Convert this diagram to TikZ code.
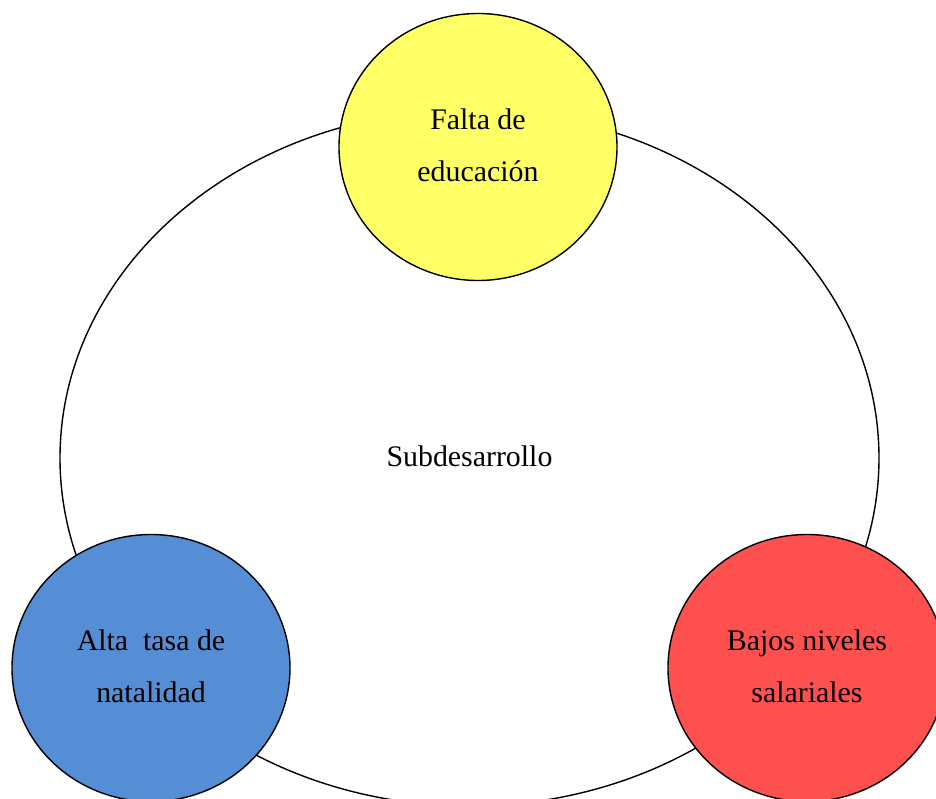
\documentclass[tikz,border=0pt]{standalone}
\usepackage{fontspec}
\setmainfont{Liberation Serif}
\usetikzlibrary{shapes.geometric}
\definecolor{edyellow}{RGB}{255,255,102}
\definecolor{natblue}{RGB}{85,142,213}
\definecolor{salred}{RGB}{255,80,80}
\tikzset{
	bubble/.style={draw, ellipse, line width=0.8pt, inner sep=0pt, align=center,
		minimum width=5.56cm, minimum height=5.34cm,
		font=\fontsize{17}{29.5}\selectfont}
}

\begin{document}
\begin{tikzpicture}
		%%%%% START %%%%%
		\useasboundingbox (0, 0) rectangle (18.72, 15.98);
		
		\node[draw, ellipse, line width=0.8pt, minimum width=16.38cm, minimum height=13.92cm,
			font=\fontsize{17}{29.5}\selectfont] (sub) at (9.39, 6.82) {\raisebox{0.06cm}{Subdesarrollo}};
		
		\node[bubble, fill=edyellow] (edu) at (9.56, 13.04) {\raisebox{0.09cm}{Falta de}\\\raisebox{0.09cm}{educación}};
		\node[bubble, fill=natblue] (nat) at (3.02, 2.62) {\raisebox{0.09cm}{Alta\ \ tasa de}\\\raisebox{0.09cm}{natalidad}};
		\node[bubble, fill=salred] (sal) at (16.14, 2.62) {\raisebox{0.09cm}{Bajos niveles}\\\raisebox{0.09cm}{salariales}};
		
		%%%%% END %%%%%
	\end{tikzpicture}
\end{document}
